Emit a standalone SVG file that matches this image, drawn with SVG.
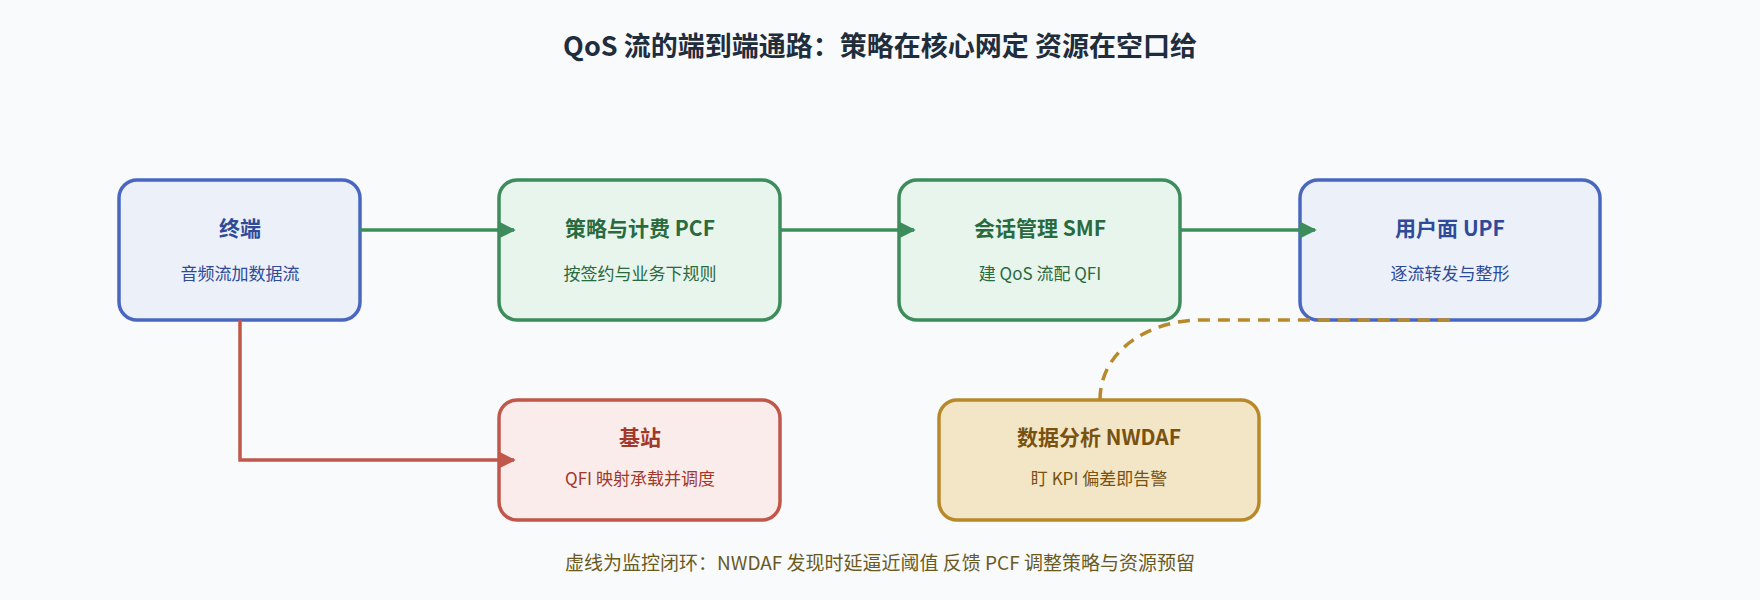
<svg xmlns="http://www.w3.org/2000/svg" width="1760" height="600" viewBox="0 0 1760 600">
<defs>
<style>
text{font-family:"Noto Sans CJK SC","Noto Sans",sans-serif;text-anchor:middle}
.t{font-size:21px;font-weight:700}
.s{font-size:17px}
.blue rect{fill:#ebf0f9;stroke:#4a67c0}
.blue text{fill:#2e4a98}
.green rect{fill:#e8f5ec;stroke:#3d8c5c}
.green text{fill:#2a6a3f}
.red rect{fill:#f9ecea;stroke:#c0574a}
.red text{fill:#a2372b}
.gold rect{fill:#f3e6c6;stroke:#b8892a}
.gold text{fill:#7a5210}
rect{stroke-width:3.5}
</style>
<marker id="ag" viewBox="0 0 10 10" refX="9" refY="5" markerWidth="5" markerHeight="5" orient="auto"><path d="M0,0L10,5L0,10z" fill="#3d8c5c"/></marker>
<marker id="ar" viewBox="0 0 10 10" refX="9" refY="5" markerWidth="5" markerHeight="5" orient="auto"><path d="M0,0L10,5L0,10z" fill="#c0574a"/></marker>
</defs>
<rect width="1760" height="600" fill="#f8fafc" stroke="none"/>
<text x="880" y="56" style="font-size:27px;font-weight:700;fill:#1f2d3d">QoS 流的端到端通路：策略在核心网定 资源在空口给</text>
<g id="terminal" class="blue"><rect x="119" y="180" width="241" height="140" rx="18"/><text class="t" x="240" y="236">终端</text><text class="s" x="240" y="280">音频流加数据流</text></g>
<g id="pcf" class="green"><rect x="499" y="180" width="281" height="140" rx="18"/><text class="t" x="640" y="236">策略与计费 PCF</text><text class="s" x="640" y="280">按签约与业务下规则</text></g>
<g id="smf" class="green"><rect x="899" y="180" width="281" height="140" rx="18"/><text class="t" x="1040" y="236">会话管理 SMF</text><text class="s" x="1040" y="280">建 QoS 流配 QFI</text></g>
<g id="upf" class="blue"><rect x="1300" y="180" width="300" height="140" rx="18"/><text class="t" x="1450" y="236">用户面 UPF</text><text class="s" x="1450" y="280">逐流转发与整形</text></g>
<g id="gnb" class="red"><rect x="499" y="400" width="281" height="120" rx="18"/><text class="t" x="640" y="445">基站</text><text class="s" x="640" y="485">QFI 映射承载并调度</text></g>
<g id="nwdaf" class="gold"><rect x="939" y="400" width="320" height="120" rx="18"/><text class="t" x="1099" y="445">数据分析 NWDAF</text><text class="s" x="1099" y="485">盯 KPI 偏差即告警</text></g>
<g id="connectors" fill="none" stroke-width="3.5">
<path d="M360,230H514" stroke="#3d8c5c" marker-end="url(#ag)"/>
<path d="M780,230H914" stroke="#3d8c5c" marker-end="url(#ag)"/>
<path d="M1180,230H1315" stroke="#3d8c5c" marker-end="url(#ag)"/>
<path d="M240,320V460H514" stroke="#c0574a" marker-end="url(#ar)"/>
<path d="M1100,400C1100,350 1150,320 1201,320H1450" stroke="#b8892a" stroke-dasharray="12,8"/>
</g>
<text x="880" y="570" style="font-size:19px;fill:#6b5a1f">虚线为监控闭环：NWDAF 发现时延逼近阈值 反馈 PCF 调整策略与资源预留</text>
</svg>
